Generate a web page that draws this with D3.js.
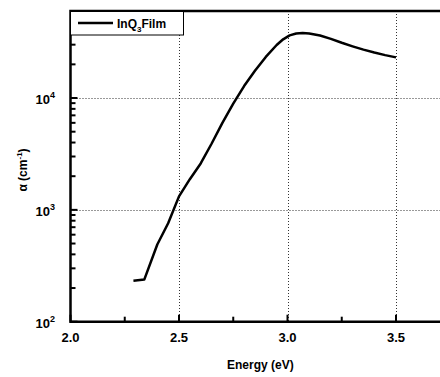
<!DOCTYPE html>
<html>
<head>
<meta charset="utf-8">
<script src="https://cdn.jsdelivr.net/npm/d3@7"></script>
<style>
html, body { margin: 0; padding: 0; background: #fff; overflow: hidden; }
svg { display: block; }
text { font-family: "Liberation Sans", Arial, sans-serif; font-weight: bold; fill: #000; }
</style>
</head>
<body>
<div id="chart"></div>
<script>
var width = 440;
var height = 377;

// data
var energy = [2.29, 2.34, 2.40, 2.45, 2.50, 2.55, 2.60, 2.65, 2.70, 2.75, 2.80, 2.85,
              2.90, 2.95, 2.98, 3.01, 3.04, 3.07, 3.10, 3.15, 3.20, 3.25, 3.30, 3.35, 3.40, 3.45, 3.50];
var alpha = [232, 238, 490, 760, 1320, 1880, 2600, 3900, 6000, 8900, 12800, 17500,
             23300, 29800, 33500, 36300, 37700, 38200, 37800, 36200, 33800, 31200, 29000, 27100, 25500, 24200, 23100];

var xTicks = [2.0, 2.5, 3.0, 3.5];
var xMinor = [2.25, 2.75, 3.25];
var yTicks = [100, 1000, 10000];
var yExp = ["2", "3", "4"];

var x = d3.scaleLinear().domain([2.0, 3.75]).range([70.5, 70.5 + 1.75 * 217]);
var y = d3.scaleLog().domain([100, 60000]).range([321.7, 11]);

var svg = d3.select('#chart').append('svg')
    .attr('width', width)
    .attr('height', height);

// grid
var grid = svg.append('g').attr('class', 'grid');
grid.selectAll('.vg')
    .data([2.5, 3.0, 3.5])
    .enter().append('line')
    .attr('x1', function(d) { return Math.round(x(d)) + 0.5; })
    .attr('x2', function(d) { return Math.round(x(d)) + 0.5; })
    .attr('y1', y.range()[1])
    .attr('y2', y.range()[0])
    .attr('stroke', '#333')
    .attr('stroke-width', 1)
    .attr('stroke-dasharray', '1,2');
grid.selectAll('.hg')
    .data([1000, 10000])
    .enter().append('line')
    .attr('x1', x.range()[0])
    .attr('x2', x.range()[1])
    .attr('y1', function(d) { return Math.round(y(d)) + 0.5; })
    .attr('y2', function(d) { return Math.round(y(d)) + 0.5; })
    .attr('stroke', '#333')
    .attr('stroke-width', 1)
    .attr('stroke-dasharray', '1,2');

// inward ticks
var yMinor = [];
[100, 1000, 10000].forEach(function(b) {
    for (var k = 2; k <= 9; ++k) {
        if (b * k <= 60000) yMinor.push(b * k);
    }
});

var x0 = x.range()[0], yb = y.range()[0];
var ticks = svg.append('g').attr('stroke', '#000').attr('stroke-width', 2);
ticks.selectAll('.xt')
    .data(xTicks.map(function(d) { return {v: d, len: 6}; })
        .concat(xMinor.map(function(d) { return {v: d, len: 4}; })))
    .enter().append('line')
    .attr('x1', function(d) { return x(d.v); })
    .attr('x2', function(d) { return x(d.v); })
    .attr('y1', yb)
    .attr('y2', function(d) { return yb - d.len - 1; });
ticks.selectAll('.yt')
    .data(yTicks.map(function(d) { return {v: d, len: 6}; })
        .concat(yMinor.map(function(d) { return {v: d, len: 4}; })))
    .enter().append('line')
    .attr('x1', x0)
    .attr('x2', function(d) { return x0 + d.len + 1; })
    .attr('y1', function(d) { return y(d.v); })
    .attr('y2', function(d) { return y(d.v); });

// frame
svg.append('path')
    .attr('d', 'M' + x.range()[1] + ',' + y.range()[1] +
               'H' + x0 + 'V' + yb + 'H' + x.range()[1])
    .attr('fill', 'none')
    .attr('stroke', '#000')
    .attr('stroke-width', 2.5);

// tick labels
svg.selectAll('.xl')
    .data(xTicks)
    .enter().append('text')
    .attr('x', function(d) { return x(d); })
    .attr('y', 342)
    .attr('text-anchor', 'middle')
    .style('font-size', '13px')
    .text(function(d) { return d.toFixed(1); });

var yl = svg.selectAll('.yl')
    .data(yTicks)
    .enter().append('text')
    .attr('x', 55)
    .attr('y', function(d) { return y(d) + 6; })
    .attr('text-anchor', 'end')
    .style('font-size', '13px');
yl.append('tspan').text('10');
yl.append('tspan')
    .attr('dy', -6)
    .style('font-size', '9px')
    .text(function(d, i) { return yExp[i]; });

// axis titles
svg.append('text')
    .attr('x', x(2.875))
    .attr('y', 369)
    .attr('text-anchor', 'middle')
    .style('font-size', '12px')
    .text('Energy (eV)');

var yt = svg.append('text')
    .attr('transform', 'translate(27,170) rotate(-90)')
    .attr('text-anchor', 'middle')
    .style('font-size', '12px');
yt.append('tspan').text('\u03b1 (cm');
yt.append('tspan').attr('dy', -5).style('font-size', '8px').text('-1');
yt.append('tspan').attr('dy', 5).text(')');

// curve
var line = d3.line()
    .x(function(d, i) { return x(energy[i]); })
    .y(function(d) { return y(d); });

svg.append('path')
    .datum(alpha)
    .attr('d', line)
    .attr('fill', 'none')
    .attr('stroke', '#000')
    .attr('stroke-width', 2.5)
    .attr('stroke-linejoin', 'round');

// legend
var lg = svg.append('g');
lg.append('rect')
    .attr('x', 70.5).attr('y', 11.5)
    .attr('width', 113).attr('height', 23.5)
    .attr('fill', '#fff')
    .attr('stroke', '#000')
    .attr('stroke-width', 1);
lg.append('line')
    .attr('x1', 78).attr('x2', 113)
    .attr('y1', 23).attr('y2', 23)
    .attr('stroke', '#000')
    .attr('stroke-width', 2.5);
var lt = lg.append('text')
    .attr('x', 117)
    .attr('y', 28)
    .style('font-size', '12px');
lt.append('tspan').text('InQ');
lt.append('tspan').attr('dy', 4).style('font-size', '8px').text('3');
lt.append('tspan').attr('dy', -4).text('Film');
</script>
</body>
</html>
